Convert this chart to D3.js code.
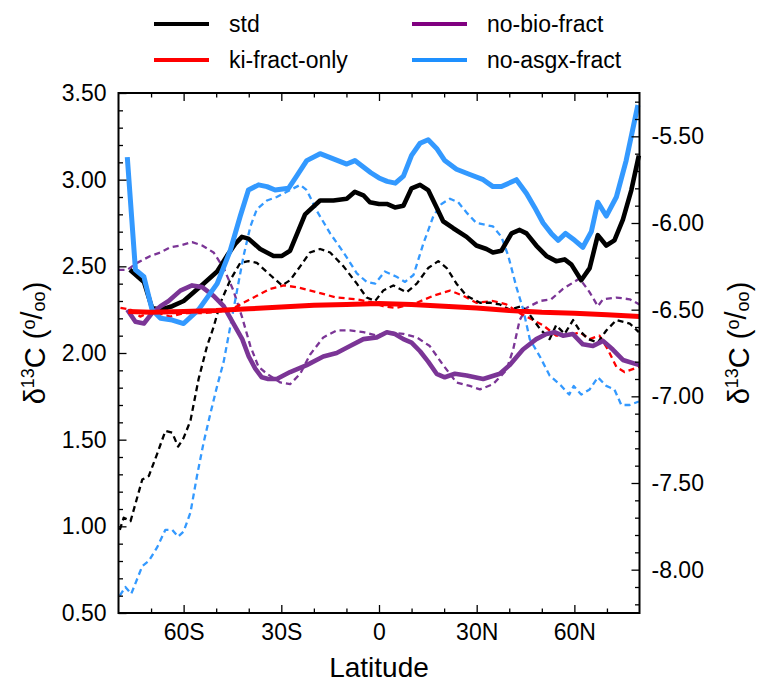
<!DOCTYPE html>
<html><head><meta charset="utf-8">
<script src="https://cdn.jsdelivr.net/npm/d3@7/dist/d3.min.js"></script>
<style>
body{margin:0;background:#fff}
svg text{font-family:"Liberation Sans",Arial,Helvetica,sans-serif;fill:#000}
</style>
</head><body>
<svg id="c" width="758" height="682"></svg>
<script>
// ---------- data (left axis: solid, ocean; right axis: dashed) ----------
const xTickVals = [-60, -30, 0, 30, 60];
const xTickLabels = ["60S", "30S", "0", "30N", "60N"];
const leftTicks = [0.5, 1.0, 1.5, 2.0, 2.5, 3.0, 3.5];
const rightTicks = [-8.0, -7.5, -7.0, -6.5, -6.0, -5.5];
const legendNames = ["std", "ki-fract-only", "no-bio-fract", "no-asgx-fract"];

const stdLat = [-76.5,-72.2,-69.7,-67.1,-63.5,-60,-56.9,-53.9,-49.7,-46.7,-44.1,-42.1,-40.1,-36.5,-32.4,-29.8,-27.3,-22.7,-18.1,-14,-9.9,-7.4,-4.8,-2.8,0,2.4,4.9,7.5,10,12.6,15.1,17.7,19.7,22.8,26.9,29.9,33,35,37.6,40.7,43.2,45.3,48.3,51.4,54.4,57,59.1,62.1,64.7,67.2,69.8,72.3,74.9,77.5,79.8];
const stdVal = [2.48,2.41,2.26,2.25,2.27,2.30,2.35,2.40,2.47,2.56,2.63,2.67,2.66,2.60,2.56,2.56,2.59,2.80,2.88,2.88,2.89,2.93,2.91,2.87,2.86,2.86,2.84,2.85,2.95,2.97,2.94,2.84,2.76,2.72,2.67,2.62,2.60,2.58,2.59,2.69,2.71,2.69,2.62,2.56,2.53,2.54,2.51,2.42,2.49,2.68,2.62,2.65,2.77,2.94,3.14];

const kiLat = [-77,-70,-60,-50,-40,-30,-20,-10,0,10,20,30,40,50,60,70,80];
const kiVal = [2.24,2.235,2.24,2.245,2.255,2.265,2.275,2.28,2.285,2.28,2.27,2.26,2.245,2.235,2.23,2.22,2.21];

const noBioLat = [-77.3,-74.8,-72.2,-69.7,-67.1,-64.6,-61,-57.4,-54.3,-50.8,-47.7,-44.7,-42,-40,-38,-36,-34,-31.4,-27.3,-22.2,-17.1,-13,-8.9,-4.8,-0.7,2.4,4.9,7.5,10,12.6,15.1,17.7,20.2,23.3,26.9,32,37.1,40.1,44.2,48.3,51.4,53.9,56.5,59.5,62.6,65.7,68.8,71.8,74.9,80];
const noBioVal = [2.25,2.18,2.17,2.23,2.27,2.30,2.36,2.39,2.38,2.33,2.27,2.17,2.08,1.98,1.91,1.86,1.85,1.85,1.89,1.93,1.98,2.00,2.04,2.08,2.09,2.12,2.11,2.08,2.06,2.01,1.95,1.88,1.86,1.88,1.87,1.85,1.88,1.93,2.02,2.08,2.11,2.12,2.10,2.11,2.05,2.04,2.07,2.02,1.96,1.93];

const noAsgxLat = [-77.3,-74.8,-72.2,-69.7,-67.1,-63.5,-60,-55.4,-49.7,-45.7,-42.6,-40.1,-37,-34.4,-31.9,-27.8,-25.3,-22.2,-18.1,-14,-9.9,-7.4,-2.5,0,2.5,5,7.5,10,12.6,15.1,17.7,20.2,23.8,27.9,32,35,37.6,42.2,45.3,47.8,50.4,52.9,55,57.3,60.1,62.6,65.2,67.2,69.8,72.9,75.9,79.5];
const noAsgxVal = [3.13,2.48,2.44,2.25,2.20,2.19,2.17,2.25,2.40,2.59,2.79,2.94,2.97,2.96,2.94,2.95,3.02,3.11,3.15,3.12,3.09,3.11,3.04,3.01,2.99,2.98,3.02,3.14,3.21,3.23,3.18,3.11,3.06,3.03,3.00,2.96,2.96,3.00,2.92,2.84,2.75,2.69,2.65,2.69,2.65,2.61,2.70,2.87,2.79,2.90,3.11,3.43];

const stdAtmLat = [-79.6,-78.4,-76.3,-72.7,-70.7,-68.1,-65.6,-63.5,-61.7,-60,-57.9,-55.4,-52.8,-50.8,-48.7,-45.7,-42.6,-40.1,-37.5,-33.4,-29.8,-27.3,-24.2,-21.2,-18.1,-15,-10.9,-6.8,-3.8,-1.2,1.3,4.4,8.5,11.6,15.1,18.2,20.8,23.8,26.9,31,34.1,37.1,40.2,43.8,46.3,49.4,52.4,54.4,57,59.6,61.6,64.2,67.2,69.8,72.9,77,79.8];
const stdAtmVal = [-7.77,-7.70,-7.72,-7.48,-7.46,-7.33,-7.20,-7.21,-7.29,-7.24,-7.14,-6.90,-6.71,-6.60,-6.46,-6.33,-6.23,-6.22,-6.23,-6.30,-6.36,-6.33,-6.25,-6.17,-6.15,-6.17,-6.25,-6.35,-6.43,-6.45,-6.39,-6.36,-6.40,-6.35,-6.26,-6.22,-6.26,-6.35,-6.42,-6.46,-6.46,-6.47,-6.50,-6.48,-6.53,-6.61,-6.67,-6.59,-6.64,-6.56,-6.62,-6.67,-6.69,-6.62,-6.56,-6.58,-6.63];

const kiAtmLat = [-79.4,-76.3,-73.3,-69.7,-64.1,-60,-53.9,-48.7,-45.7,-41.6,-37.5,-33.4,-29.3,-25.3,-19.1,-13,-6.8,-1.7,1.3,5.4,11.6,16.7,21.8,25.9,29.9,35,39.1,43.2,47.3,50.4,54.4,58.5,61.6,64.7,67.7,70.3,72.9,75.4,79.8];
const kiAtmVal = [-6.49,-6.50,-6.54,-6.51,-6.54,-6.52,-6.52,-6.51,-6.50,-6.46,-6.42,-6.38,-6.36,-6.37,-6.40,-6.43,-6.44,-6.46,-6.48,-6.49,-6.46,-6.42,-6.39,-6.42,-6.46,-6.45,-6.47,-6.52,-6.56,-6.59,-6.65,-6.65,-6.63,-6.67,-6.65,-6.73,-6.83,-6.86,-6.83];

const noBioAtmLat = [-80,-77.3,-74.3,-70.2,-67.1,-64.1,-61,-57.4,-54.3,-50.8,-47.7,-44.7,-42.1,-39.5,-37,-34.4,-30.3,-27.3,-24.2,-21.2,-17.1,-13,-8.9,-4.8,-0.7,3,7.5,11.6,15.6,19.7,23.8,27.9,31,35,39.1,41.2,43.2,45.3,49.4,52.9,56.5,61.6,64.7,67.2,68.8,72.9,77,80];
const noBioAtmVal = [-6.27,-6.27,-6.23,-6.19,-6.17,-6.14,-6.13,-6.11,-6.13,-6.17,-6.26,-6.39,-6.54,-6.71,-6.83,-6.87,-6.92,-6.93,-6.87,-6.76,-6.66,-6.62,-6.62,-6.63,-6.65,-6.63,-6.64,-6.66,-6.71,-6.82,-6.92,-6.94,-6.96,-6.93,-6.85,-6.73,-6.56,-6.49,-6.45,-6.44,-6.38,-6.32,-6.40,-6.48,-6.44,-6.43,-6.44,-6.47];

const noAsgxAtmLat = [-79.6,-77.9,-76.1,-72.7,-70.7,-68.1,-65.6,-63.5,-61.7,-60,-57.9,-55.9,-53.9,-51.8,-49.7,-47.7,-44.7,-41.6,-39.5,-37.5,-34.4,-31.4,-28.3,-24.2,-22.2,-19.1,-15,-10.9,-6.8,-3.8,-1.2,1.8,5.4,8,10.6,13.6,16.7,19.2,21.8,24.3,26.9,29.9,32.5,35,37.6,39.7,42.2,44.3,46.3,49.4,52.4,56,58.4,59.8,62.1,64.7,67.2,69.8,72.3,74.4,77,79.8];
const noAsgxAtmVal = [-8.15,-8.10,-8.14,-7.98,-7.95,-7.87,-7.77,-7.77,-7.81,-7.78,-7.67,-7.46,-7.27,-7.10,-6.94,-6.80,-6.50,-6.19,-6.02,-5.92,-5.87,-5.85,-5.82,-5.78,-5.81,-5.93,-6.06,-6.17,-6.29,-6.34,-6.35,-6.28,-6.31,-6.34,-6.30,-6.12,-5.96,-5.89,-5.86,-5.88,-5.94,-6.00,-6.01,-6.02,-6.08,-6.19,-6.37,-6.50,-6.67,-6.77,-6.88,-6.94,-6.99,-6.94,-6.99,-6.96,-6.89,-6.94,-6.96,-7.05,-7.05,-7.03];

// ---------- layout ----------
const svg = d3.select("#c");
const L = 118.5, R = 639.5, T = 93, B = 613;
const x = d3.scaleLinear().domain([-80, 80]).range([L, R]);
const yL = d3.scaleLinear().domain([0.5, 3.5]).range([B, T]);
const yR = d3.scaleLinear().domain([-8.25, -5.25]).range([B, T]);

const cBlack = "#000000", cRed = "#ff0000", cPurple = "#7b3596", cBlue = "#3399ff";
const legendColors = ["#000000", "#ff0000", "#800080", "#1e90ff"];

const series = [
  {lat: noBioAtmLat, val: noBioAtmVal, y: yR, color: cPurple, w: 2.3, dash: "6,4"},
  {lat: kiAtmLat, val: kiAtmVal, y: yR, color: cRed, w: 2.3, dash: "6,4"},
  {lat: stdAtmLat, val: stdAtmVal, y: yR, color: cBlack, w: 2.3, dash: "6,4"},
  {lat: noAsgxAtmLat, val: noAsgxAtmVal, y: yR, color: cBlue, w: 2.3, dash: "6,4"},
  {lat: stdLat, val: stdVal, y: yL, color: cBlack, w: 4.6, dash: null},
  {lat: noBioLat, val: noBioVal, y: yL, color: cPurple, w: 4.6, dash: null},
  {lat: noAsgxLat, val: noAsgxVal, y: yL, color: cBlue, w: 5, dash: null},
  {lat: kiLat, val: kiVal, y: yL, color: cRed, w: 5, dash: null}
];

const plot = svg.append("g");
series.forEach(s => {
  const pts = s.lat.map((d, i) => [d, s.val[i]]);
  const line = d3.line().x(d => x(d[0])).y(d => s.y(d[1]));
  plot.append("path").datum(pts)
    .attr("d", line)
    .attr("fill", "none")
    .attr("stroke", s.color)
    .attr("stroke-width", s.w)
    .attr("stroke-linejoin", "round")
    .attr("stroke-dasharray", s.dash);
});

// ---------- axes ----------
const fmt = d => d.toFixed(2);
const tickFont = 23;
function styleAxis(g) {
  g.select(".domain").remove();
  g.selectAll("line").attr("stroke", "#000").attr("stroke-width", 1.3);
  g.selectAll("text").attr("font-size", tickFont).attr("font-family", "Liberation Sans, Arial, sans-serif");
}
const minorY = d3.range(6, 35).map(d => d / 10).filter(d => Math.abs(d * 2 - Math.round(d * 2)) > 1e-6);
const minorYR = d3.range(-82, -52).map(d => d / 10).filter(d => Math.abs(d * 2 - Math.round(d * 2)) > 1e-6);
const minorX = [-70, -50, -40, -20, -10, 10, 20, 40, 50, 70];

svg.append("g").attr("transform", `translate(${L},0)`)
  .call(d3.axisLeft(yL).tickValues(leftTicks).tickFormat(fmt).tickSize(-8).tickPadding(12)).call(styleAxis);
svg.append("g").attr("transform", `translate(${L},0)`)
  .call(d3.axisLeft(yL).tickValues(minorY).tickFormat("").tickSize(-4.5)).call(styleAxis);
svg.append("g").attr("transform", `translate(${R},0)`)
  .call(d3.axisRight(yR).tickValues(rightTicks).tickFormat(fmt).tickSize(-8).tickPadding(12)).call(styleAxis);
svg.append("g").attr("transform", `translate(${R},0)`)
  .call(d3.axisRight(yR).tickValues(minorYR).tickFormat("").tickSize(-4.5)).call(styleAxis);
svg.append("g").attr("transform", `translate(0,${B})`)
  .call(d3.axisBottom(x).tickValues(xTickVals).tickFormat((d, i) => xTickLabels[i]).tickSize(-8).tickPadding(11)).call(styleAxis);
svg.append("g").attr("transform", `translate(0,${B})`)
  .call(d3.axisBottom(x).tickValues(minorX).tickFormat("").tickSize(-4.5)).call(styleAxis);
svg.append("g").attr("transform", `translate(0,${T})`)
  .call(d3.axisTop(x).tickValues(xTickVals).tickFormat("").tickSize(-8)).call(styleAxis);
svg.append("g").attr("transform", `translate(0,${T})`)
  .call(d3.axisTop(x).tickValues(minorX).tickFormat("").tickSize(-4.5)).call(styleAxis);

// frame
svg.append("rect").attr("x", L).attr("y", T).attr("width", R - L).attr("height", B - T)
  .attr("fill", "none").attr("stroke", "#000").attr("stroke-width", 2);

// axis titles
svg.append("text").attr("x", (L + R) / 2).attr("y", 677).attr("text-anchor", "middle")
  .attr("font-size", 28).text("Latitude");

function yTitle(xc, yc) {
  const t = svg.append("text").attr("transform", `translate(${xc},${yc}) rotate(-90)`)
    .attr("text-anchor", "middle").attr("font-size", 29);
  t.append("tspan").text("\u03b4");
  t.append("tspan").attr("font-size", 18).attr("dy", -11).text("13");
  t.append("tspan").attr("dy", 11).text("C (");
  t.append("tspan").attr("font-size", 18).attr("dy", -10).text("o");
  t.append("tspan").attr("dy", 7).text("/");
  t.append("tspan").attr("font-size", 18).attr("dy", 3).text("oo");
  t.append("tspan").attr("dy", 0).text(")");
}
yTitle(45, 343);
yTitle(749, 343);

// legend
const legX = [154, 412], legY = [24, 60];
legendNames.forEach((n, i) => {
  const col = i < 2 ? 0 : 1, row = i % 2;
  svg.append("line").attr("x1", legX[col]).attr("x2", legX[col] + 55)
    .attr("y1", legY[row]).attr("y2", legY[row])
    .attr("stroke", legendColors[i]).attr("stroke-width", 4);
  svg.append("text").attr("x", legX[col] + 75).attr("y", legY[row] + 8)
    .attr("font-size", 23).text(n);
});
</script>
</body></html>
